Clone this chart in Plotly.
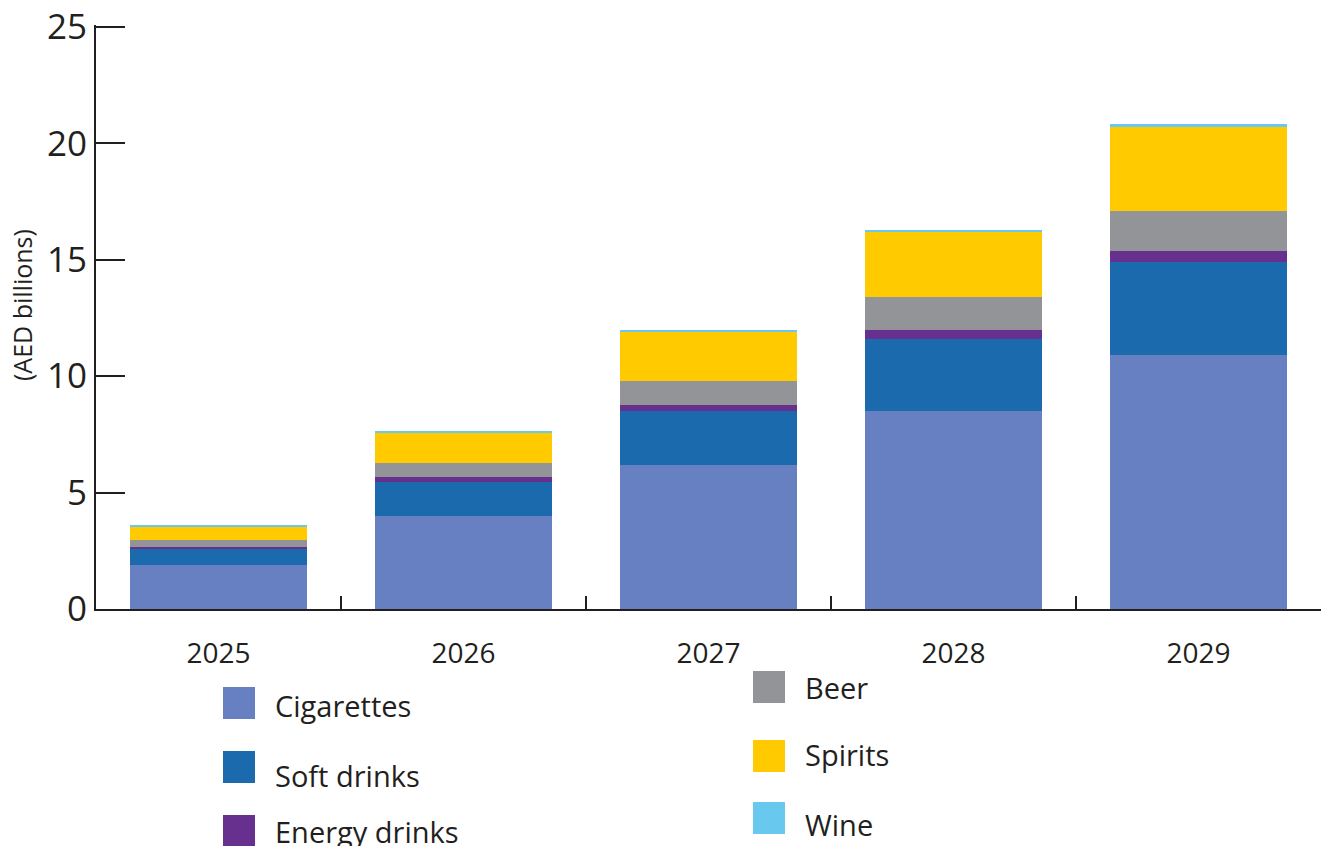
import plotly.graph_objects as go

years = ["2025", "2026", "2027", "2028", "2029"]
series_names = ["Cigarettes", "Soft drinks", "Energy drinks", "Beer", "Spirits", "Wine"]
cigarettes = [1.89, 4.00, 6.19, 8.51, 10.91]
soft_drinks = [0.67, 1.46, 2.32, 3.09, 4.00]
energy_drinks = [0.10, 0.21, 0.26, 0.39, 0.47]
beer = [0.30, 0.60, 1.03, 1.42, 1.72]
spirits = [0.60, 1.29, 2.12, 2.79, 3.62]
wine = [0.04, 0.05, 0.04, 0.09, 0.11]
colors = ["#6780c1", "#1a6aad", "#67308f", "#939498", "#ffcb00", "#68c8ee"]
y_ticks = [0, 5, 10, 15, 20, 25]
y_title = "(AED billions)"

values = [cigarettes, soft_drinks, energy_drinks, beer, spirits, wine]

FONT = "Open Sans"
INK = "#231f20"

fig = go.Figure()
for name, vals, col in zip(series_names, values, colors):
    fig.add_trace(go.Bar(x=years, y=vals, name=name, marker=dict(color=col, line=dict(width=0)),
                         showlegend=False))

# plot area geometry (pixels) for placing the custom legend in paper coords
L, R, T, B = 96, 6, 25, 237
W, H = 1327, 846
pw, ph = W - L - R, H - T - B

def px(x):
    return (x - L) / pw

def py(y):
    return (H - B - y) / ph

# legend: two columns
legend_pos = [
    (223, 687, 705), (223, 751, 775), (223, 815, 831),
    (753, 671, 687), (753, 740, 754), (753, 802, 824),
]
for name, col, (sx, sy, ty) in zip(series_names, colors, legend_pos):
    fig.add_shape(type="rect", xref="paper", yref="paper",
                  x0=px(sx), x1=px(sx + 32), y0=py(sy), y1=py(sy + 32),
                  fillcolor=col, line=dict(width=0))
    fig.add_annotation(xref="paper", yref="paper", x=px(sx + 50), y=py(ty),
                       text=name, showarrow=False, xanchor="left", yanchor="middle",
                       font=dict(family=FONT, size=29, color=INK))

# y-axis title
fig.add_annotation(xref="paper", yref="paper", x=px(22), y=py(305), text=y_title,
                   textangle=-90, showarrow=False, xanchor="center", yanchor="middle",
                   font=dict(family=FONT, size=25, color=INK))

fig.update_layout(
    barmode="stack",
    bargap=0.28,
    width=W, height=H,
    margin=dict(l=L, r=R, t=T, b=B, autoexpand=False),
    plot_bgcolor="white", paper_bgcolor="white",
    font=dict(family=FONT, color=INK),
    showlegend=False,
)
fig.update_xaxes(
    type="category", range=[-0.5, 4.5], automargin=False,
    showline=True, linecolor=INK, linewidth=2,
    ticks="inside", tickson="boundaries", ticklen=13, tickwidth=2, tickcolor=INK,
    tickfont=dict(family=FONT, size=28, color=INK),
    ticklabelstandoff=18,
    showgrid=False, zeroline=False,
)
fig.update_yaxes(
    range=[0, 25.08], tickvals=y_ticks, automargin=False,
    showline=True, linecolor=INK, linewidth=2,
    ticks="inside", ticklen=29, tickwidth=2, tickcolor=INK,
    tickfont=dict(family=FONT, size=35, color=INK),
    showgrid=False, zeroline=False,
)

fig.write_html("out.html", config={"displayModeBar": False},
               post_script="document.body.style.margin='0px';")
